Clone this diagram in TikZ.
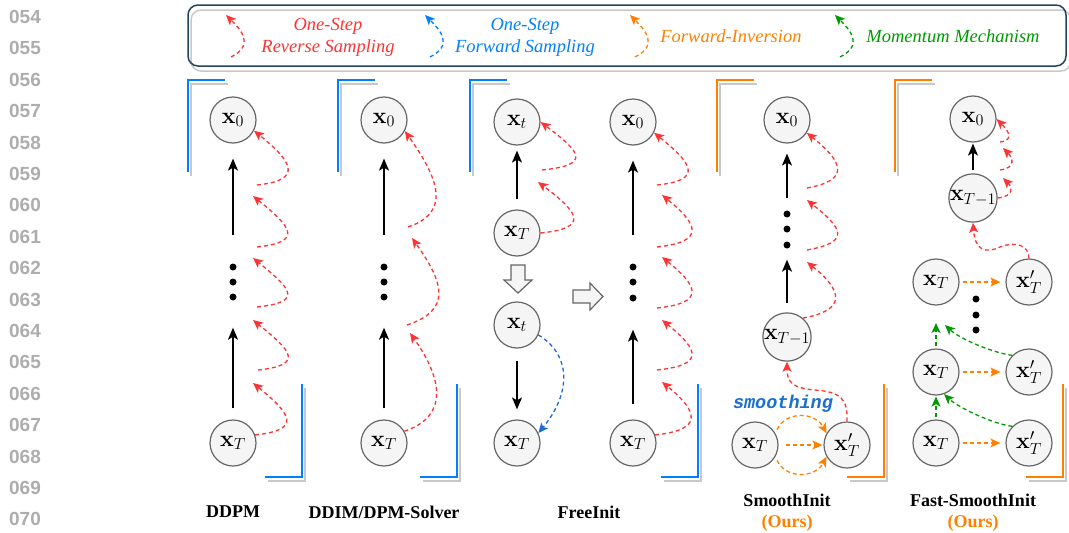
\RequirePackage{fix-cm}
\documentclass[tikz,border=0pt]{standalone}
\usepackage[no-math]{fontspec}
\setmainfont{Liberation Serif}
\setmonofont{Liberation Mono}
\newfontfamily\numfont{Liberation Sans}
\usetikzlibrary{arrows.meta}
\definecolor{cred}{HTML}{FF3333}
\definecolor{cblue}{HTML}{007FFF}
\definecolor{cdblue}{HTML}{1A6FD0}
\definecolor{corange}{HTML}{FF8000}
\definecolor{cgreen}{HTML}{009900}
\definecolor{cnode}{HTML}{666666}
\definecolor{cfill}{HTML}{F5F5F5}
\definecolor{cframe}{HTML}{23445D}
\definecolor{cshadow}{HTML}{C8C8C8}
\definecolor{cnum}{HTML}{ADADAD}
\begin{document}
\begin{tikzpicture}[x=1pt,y=-1pt,
  state/.style={circle, draw=cnode, fill=cfill, line width=1.2pt, minimum size=46pt, inner sep=0pt, font=\fontsize{23}{26}\selectfont},
  blk/.style={line width=1.5pt, -{Stealth[length=12pt,width=10pt,inset=3pt]}},
  dsh/.style={line width=1.3pt, dash pattern=on 4pt off 3pt, -{Stealth[length=10pt,width=9pt,inset=2.5pt]}},
  rev/.style={dsh, color=cred},
  fwd/.style={dsh, color=cdblue},
  inv/.style={dsh, color=corange},
  mom/.style={dsh, color=cgreen},
  brk/.style={line width=2pt},
  shd/.style={line width=2pt, color=cshadow},
  lab/.style={font=\fontsize{18}{20}\selectfont\bfseries, inner sep=0pt},
  leg/.style={font=\fontsize{18.5}{22}\selectfont\itshape, align=center, inner sep=0pt},
  ell/.style={circle, fill=black, inner sep=0pt, minimum size=7pt},
  num/.style={font=\fontsize{19}{20}\selectfont\numfont\bfseries, text=cnum, inner sep=0pt},
  blockarr/.style={draw=cnode, fill=cfill, line width=1.2pt, line join=miter}
]
\useasboundingbox (0,0) rectangle (1069,533);

% line numbers
\foreach \i in {0,...,16}{
  \pgfmathtruncatemacro\n{54+\i}
  \node[num] (ln\i) at (25,17+31.4*\i) {0\n};
}

% legend
\draw[shd, line width=1.5pt, rounded corners=10pt] (191,10) rectangle (1071,71);
\node[draw=cframe, line width=1.5pt, rounded corners=10pt, minimum width=878pt, minimum height=61pt, inner sep=0pt] (legend) at (627,35.5) {};
\coordinate (lr1) at (231,57); \coordinate (lr2) at (226,15);
\draw[rev] (lr1) .. controls +(24,-12) and +(15,15) .. (lr2);
\node[leg, text=cred] (lt1) at (328,37) {One-Step\\Reverse Sampling};
\coordinate (lb1) at (430,57); \coordinate (lb2) at (425,15);
\draw[dsh, color=cblue] (lb1) .. controls +(24,-12) and +(15,15) .. (lb2);
\node[leg, text=cblue] (lt2) at (525,37) {One-Step\\Forward Sampling};
\coordinate (lo1) at (635,57); \coordinate (lo2) at (630,15);
\draw[inv] (lo1) .. controls +(24,-12) and +(15,15) .. (lo2);
\node[leg, text=corange] (lt3) at (731,36) {Forward-Inversion};
\coordinate (lg1) at (840,57); \coordinate (lg2) at (835,15);
\draw[mom] (lg1) .. controls +(24,-12) and +(15,15) .. (lg2);
\node[leg, text=cgreen] (lt4) at (953,36) {Momentum Mechanism};

% panel brackets
\foreach \tl/\br/\c in {188/302/cblue, 338/457/cblue, 470/698/cblue, 717/884/corange, 895/1063/corange}{
  \draw[shd] (\tl+3,176) -- (\tl+3,84) -- (\tl+40,84);
  \draw[brk, color=\c] (\tl,172) -- (\tl,80) -- (\tl+37,80);
  \draw[shd] (\br+3,388) -- (\br+3,481) -- (\br-34,481);
  \draw[brk, color=\c] (\br,384) -- (\br,477) -- (\br-37,477);
}

% ---------- DDPM ----------
\node[state] (a0) at (233,120) {$\mathbf{x}_0$};
\node[state] (aT) at (233,443) {$\mathbf{x}_T$};
\node[ell] (a1) at (233,267) {};
\node[ell] (a2) at (233,282) {};
\node[ell] (a3) at (233,297) {};
\draw[blk, shorten <=11pt, shorten >=27pt] (aT) -- (a3);
\draw[blk, shorten <=28pt, shorten >=15pt] (a1) -- (a0);
\coordinate (ar1) at (253,383); \coordinate (as2) at (258,370);
\coordinate (ar2) at (253,320); \coordinate (as3) at (257,307);
\coordinate (ar3) at (253,258); \coordinate (as4) at (257,247);
\coordinate (ar4) at (253,196); \coordinate (as5) at (257,185);
\draw[rev] (aT.20) .. controls +(48,-5) and +(37,30) .. (ar1);
\draw[rev] (as2) .. controls +(48,-5) and +(37,30) .. (ar2);
\draw[rev] (as3) .. controls +(48,-5) and +(37,30) .. (ar3);
\draw[rev] (as4) .. controls +(48,-5) and +(37,30) .. (ar4);
\draw[rev] (as5) .. controls +(48,-5) and +(37,30) .. (a0.-27);
\node[lab] (lab1) at (233,512) {DDPM};

% ---------- DDIM ----------
\node[state] (b0) at (384,120) {$\mathbf{x}_0$};
\node[state] (bT) at (384,443) {$\mathbf{x}_T$};
\node[ell] (b1) at (384,267) {};
\node[ell] (b2) at (384,282) {};
\node[ell] (b3) at (384,297) {};
\draw[blk, shorten <=11pt, shorten >=27pt] (bT) -- (b3);
\draw[blk, shorten <=28pt, shorten >=15pt] (b1) -- (b0);
\coordinate (br1) at (410,333); \coordinate (bs2) at (407,325);
\coordinate (br2) at (412,238); \coordinate (bs3) at (408,227);
\draw[rev] (bT.30) .. controls +(45,-15) and +(32,45) .. (br1);
\draw[rev] (bs2) .. controls +(45,-15) and +(32,45) .. (br2);
\draw[rev] (bs3) .. controls +(45,-15) and +(32,45) .. (b0.-28);
\node[lab] (lab2) at (384,512) {DDIM/DPM-Solver};

% ---------- FreeInit ----------
\node[state] (ct) at (517,122) {$\mathbf{x}_t$};
\node[state] (cT) at (517,233) {$\mathbf{x}_T$};
\node[state] (ctl) at (517,325) {$\mathbf{x}_t$};
\node[state] (cTl) at (517,443) {$\mathbf{x}_T$};
\draw[blk, shorten <=10pt, shorten >=5pt] (cT) -- (ct);
\coordinate (cr1) at (538,182); \coordinate (cs2) at (542,170);
\draw[rev] (cT.0) .. controls +(50,-5) and +(40,30) .. (cr1);
\draw[rev] (cs2) .. controls +(50,-5) and +(40,30) .. (ct.0);
\draw[blockarr] (511,265) -- (525,265) -- (525,280) -- (532,280) -- (518,293) -- (504,280) -- (511,280) -- cycle;
\draw[blk, shorten <=12pt, shorten >=10pt] (ctl) -- (cTl);
\draw[fwd] (ctl.-25) .. controls +(33,20) and +(33,-40) .. (cTl.25);
\draw[blockarr] (573,290) -- (590,290) -- (590,283) -- (603,296.5) -- (590,310) -- (590,303) -- (573,303) -- cycle;
\node[state] (d0) at (633,122) {$\mathbf{x}_0$};
\node[state] (dT) at (633,443) {$\mathbf{x}_T$};
\node[ell] (d1) at (633,267) {};
\node[ell] (d2) at (633,282) {};
\node[ell] (d3) at (633,298) {};
\draw[blk, shorten <=15pt, shorten >=28pt] (dT) -- (d3);
\draw[blk, shorten <=28pt, shorten >=15pt] (d1) -- (d0);
\coordinate (dr1) at (662,382); \coordinate (ds2) at (657,370);
\coordinate (dr2) at (662,320); \coordinate (ds3) at (657,308);
\coordinate (dr3) at (662,257); \coordinate (ds4) at (657,247);
\coordinate (dr4) at (662,195); \coordinate (ds5) at (657,185);
\draw[rev] (dT.20) .. controls +(48,-5) and +(37,30) .. (dr1);
\draw[rev] (ds2) .. controls +(48,-5) and +(37,30) .. (dr2);
\draw[rev] (ds3) .. controls +(48,-5) and +(37,30) .. (dr3);
\draw[rev] (ds4) .. controls +(48,-5) and +(37,30) .. (dr4);
\draw[rev] (ds5) .. controls +(48,-5) and +(37,30) .. (d0.-27);
\node[lab] (lab3) at (589,512) {FreeInit};

% ---------- SmoothInit ----------
\node[state] (e0) at (787,120) {$\mathbf{x}_0$};
\node[state] (eTm) at (787,337) {$\mathbf{x}_{T{-}1}$};
\node[state] (eT) at (755,445) {$\mathbf{x}_T$};
\node[state] (epT) at (847,445) {$\mathbf{x}'_T$};
\node[ell] (e1) at (787,214) {};
\node[ell] (e2) at (787,229) {};
\node[ell] (e3) at (787,245) {};
\draw[blk, shorten <=9pt, shorten >=11pt] (eTm) -- (e3);
\draw[blk, shorten <=12pt, shorten >=10pt] (e1) -- (e0);
\coordinate (er1) at (807,262); \coordinate (es2) at (807,250);
\coordinate (er2) at (807,200); \coordinate (es3) at (807,188);
\draw[rev] (eTm.50) .. controls +(45,-8) and +(35,28) .. (er1);
\draw[rev] (es2) .. controls +(45,-8) and +(35,28) .. (er2);
\draw[rev] (es3) .. controls +(45,-8) and +(35,28) .. (e0.-33);
\coordinate (em) at (815,390);
\draw[rev] (epT.north) .. controls (848,398) and (840,392) .. (em) .. controls (792,388) and (787,382) .. (eTm.south);
\draw[inv, shorten <=7pt, shorten >=1pt] (eT) -- (epT);
\draw[inv, shorten <=4pt] (eT.30) .. controls +(10,-22) and +(-12,-22) .. (epT.150);
\draw[inv, shorten <=4pt] (eT.-30) .. controls +(10,22) and +(-12,22) .. (epT.-150);
\node[font=\fontsize{18.5}{20}\selectfont\ttfamily\bfseries\itshape, text=cdblue, inner sep=0pt] (sm) at (783,404) {smoothing};
\node[lab] (lab4) at (787,500) {SmoothInit};
\node[lab, text=corange] (lab4b) at (787,523) {(Ours)};

% ---------- Fast-SmoothInit ----------
\node[state] (f0) at (973,119) {$\mathbf{x}_0$};
\node[state] (fTm) at (973,198) {$\mathbf{x}_{T{-}1}$};
\node[state] (fT1) at (936,282) {$\mathbf{x}_T$};
\node[state] (fpT1) at (1029,282) {$\mathbf{x}'_T$};
\node[state] (fT2) at (936,372) {$\mathbf{x}_T$};
\node[state] (fpT2) at (1029,372) {$\mathbf{x}'_T$};
\node[state] (fT3) at (936,443) {$\mathbf{x}_T$};
\node[state] (fpT3) at (1029,443) {$\mathbf{x}'_T$};
\node[ell] (f1) at (976,299) {};
\node[ell] (f2) at (976,315) {};
\node[ell] (f3) at (976,330) {};
\draw[blk, shorten <=3pt, shorten >=1pt] (fTm) -- (f0);
\coordinate (fr1) at (1003,178); \coordinate (fs2) at (1000,170);
\coordinate (fr2) at (1003,148); \coordinate (fs3) at (1000,142);
\draw[rev] (fTm.0) .. controls +(16,-2) and +(10,10) .. (fr1);
\draw[rev] (fs2) .. controls +(16,-2) and +(10,10) .. (fr2);
\draw[rev] (fs3) .. controls +(16,-2) and +(10,10) .. (f0.0);
\coordinate (fm) at (1000,247);
\draw[rev] (fpT1.north) .. controls (1029,245) and (1015,241) .. (fm) .. controls (985,254) and (975,250) .. (fTm.south);
\draw[inv, shorten <=3pt, shorten >=5pt] (fT1) -- (fpT1);
\draw[inv, shorten <=3pt, shorten >=5pt] (fT2) -- (fpT2);
\draw[inv, shorten <=3pt, shorten >=5pt] (fT3) -- (fpT3);
\coordinate (fg1) at (936,323); \coordinate (fg2) at (945,325);
\draw[mom, shorten <=2pt, shorten >=1pt] (fT3) -- (fT2);
\draw[mom, shorten <=2pt] (fT2.north) -- (fg1);
\draw[mom] (fpT3.135) .. controls +(-18,-2) and +(15,14) .. (fT2.-70);
\draw[mom] (fpT2.135) .. controls +(-18,-2) and +(15,14) .. (fg2);
\node[lab] (lab5) at (973,500) {Fast-SmoothInit};
\node[lab, text=corange] (lab5b) at (973,523) {(Ours)};
\end{tikzpicture}
\end{document}
